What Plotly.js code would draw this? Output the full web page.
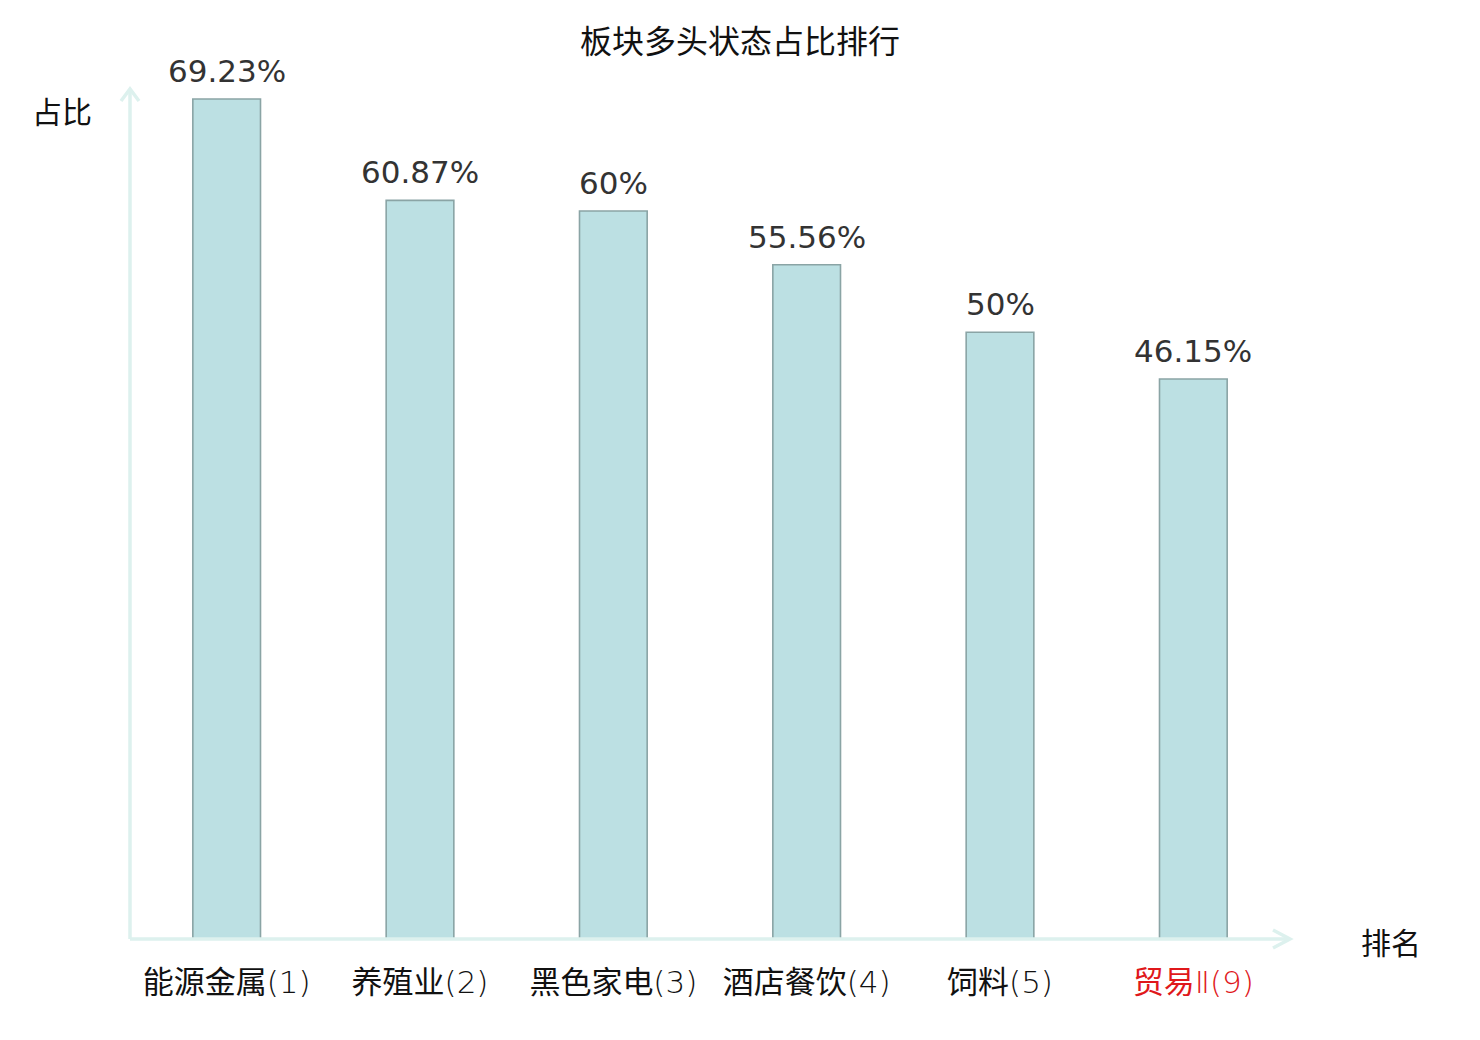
<!DOCTYPE html>
<html>
<head>
<meta charset="utf-8">
<script src="https://cdn.plot.ly/plotly-3.0.1.min.js"></script>
<style>
  body { margin: 0; background: #fff; }
  #chart { width: 1480px; height: 1040px; }
</style>
</head>
<body>
<div id="chart"></div>
<script>
// sector names and their rank
const sectors = ["能源金属", "养殖业", "黑色家电", "酒店餐饮", "饲料", "贸易"];
const sectorSuffix = ["", "", "", "", "", "Ⅱ"];
const ranks = [1, 2, 3, 4, 5, 9];
// share of sector in bullish state (%)
const shares = [69.23, 60.87, 60, 55.56, 50, 46.15];
const shareLabels = ["69.23%", "60.87%", "60%", "55.56%", "50%", "46.15%"];
const highlightIndex = 5;

const axisColor = "#ddf1ee";
const cjk = "Noto Sans CJK SC, DejaVu Sans, sans-serif";
const thin = "font-family:'DejaVu Sans ExtraLight','DejaVu Sans';font-weight:200";

const tickText = sectors.map((s, i) => {
  const t = s + '<span style="' + thin + '">' + sectorSuffix[i] + "(" + ranks[i] + ")</span>";
  return i === highlightIndex ? '<span style="color:#e0181b">' + t + "</span>" : t;
});

const bars = {
  type: "bar",
  x: sectors,
  y: shares,
  width: 0.35,
  marker: {
    color: "#bce0e3",
    line: { color: "#8aa4a5", width: 1.6 },
  },
  hoverinfo: "skip",
};

// value labels above each bar
const valueNotes = sectors.map((s, i) => ({
  x: s,
  y: shares[i],
  xref: "x",
  yref: "y",
  text: shareLabels[i],
  showarrow: false,
  xanchor: "center",
  yanchor: "middle",
  yshift: 28,
  font: { family: "DejaVu Sans", size: 31, color: "#333333" },
}));

const layout = {
  width: 1480,
  height: 1040,
  paper_bgcolor: "#ffffff",
  plot_bgcolor: "#ffffff",
  margin: { l: 130, r: 190, t: 89, b: 101 },
  showlegend: false,
  title: {
    text: "板块多头状态占比排行",
    font: { family: cjk, size: 32, color: "#111111" },
    x: 0.5,
    xanchor: "center",
    y: 1 - 42 / 1040,
    yanchor: "middle",
  },
  xaxis: {
    type: "category",
    range: [-0.5, 5.5],
    tickvals: sectors,
    ticktext: tickText,
    tickfont: { family: cjk, size: 31, color: "#111111" },
    ticks: "outside",
    ticklen: 16,
    tickcolor: "rgba(0,0,0,0)",
    showline: false,
    showgrid: false,
    zeroline: false,
    fixedrange: true,
  },
  yaxis: {
    range: [0, 70.05],
    showticklabels: false,
    showline: false,
    showgrid: false,
    zeroline: false,
    fixedrange: true,
  },
  shapes: [
    // y axis with arrow
    { type: "line", xref: "paper", yref: "paper", x0: 0, y0: 0, x1: 0, y1: 1,
      line: { color: axisColor, width: 3.5 }, layer: "above" },
    { type: "path", xref: "paper", yref: "paper",
      path: "M " + (-9 / 1160) + " " + (1 - 12 / 850) + " L 0 1 L " + (9 / 1160) + " " + (1 - 12 / 850),
      line: { color: axisColor, width: 3.5 }, layer: "above" },
    // x axis with arrow
    { type: "line", xref: "paper", yref: "paper", x0: 0, y0: 0, x1: 1, y1: 0,
      line: { color: axisColor, width: 3.5 }, layer: "above" },
    { type: "path", xref: "paper", yref: "paper",
      path: "M " + (1 - 17 / 1160) + " " + (9 / 850) + " L 1 0 L " + (1 - 17 / 1160) + " " + (-9 / 850),
      line: { color: axisColor, width: 3.5 }, layer: "above" },
  ],
  annotations: valueNotes.concat([
    { text: "占比", xref: "paper", yref: "paper", x: -68 / 1160, y: 1 - 21 / 850,
      xanchor: "center", yanchor: "middle", showarrow: false,
      font: { family: cjk, size: 30, color: "#111111" } },
    { text: "排名", xref: "paper", yref: "paper", x: 1 + 101 / 1160, y: -2 / 850,
      xanchor: "center", yanchor: "middle", showarrow: false,
      font: { family: cjk, size: 30, color: "#111111" } },
  ]),
};

Plotly.newPlot("chart", [bars], layout, { displayModeBar: false, staticPlot: true });
</script>
</body>
</html>
